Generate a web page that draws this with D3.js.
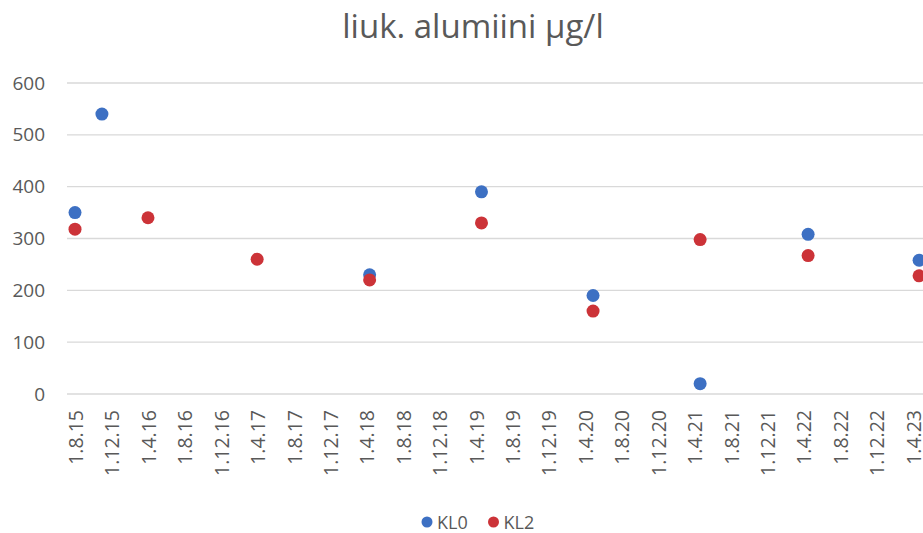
<!DOCTYPE html>
<html>
<head>
<meta charset="utf-8">
<script src="https://cdn.jsdelivr.net/npm/d3@7"></script>
<style>
  html, body { margin: 0; padding: 0; background: #fff; overflow: hidden; }
  svg { display: block; }
</style>
</head>
<body>
<svg id="chart" width="923" height="533"></svg>
<script>
// ---- data ----
const title = "liuk. alumiini µg/l";
const xTickLabels = ["1.8.15","1.12.15","1.4.16","1.8.16","1.12.16","1.4.17","1.8.17","1.12.17",
  "1.4.18","1.8.18","1.12.18","1.4.19","1.8.19","1.12.19","1.4.20","1.8.20","1.12.20",
  "1.4.21","1.8.21","1.12.21","1.4.22","1.8.22","1.12.22","1.4.23"];
const yTicks = [0, 100, 200, 300, 400, 500, 600];
const seriesNames = ["KL0", "KL2"];
const kl0Dates  = ["2015-08-01","2015-10-30","2018-04-12","2019-04-21","2020-04-28","2021-04-21","2022-04-17","2023-04-23"];
const kl0Values = [350, 540, 230, 390, 190, 20, 308, 258];
const kl2Dates  = ["2015-08-01","2016-04-01","2017-04-01","2018-04-12","2019-04-21","2020-04-28","2021-04-21","2022-04-17","2023-04-23"];
const kl2Values = [318, 340, 260, 220, 330, 160, 298, 267, 228];
const colors = ["#3d70c3", "#cc3338"];

// ---- layout ----
const svg = d3.select("#chart");
const parseTick = d3.timeParse("%d.%m.%y");
const parseIso = d3.timeParse("%Y-%m-%d");
const tickDates = xTickLabels.map(parseTick);

const plotLeft = 67, plotRight = 940;
const x = d3.scaleTime()
  .domain([tickDates[0], tickDates[tickDates.length - 1]])
  .range([75, 912.5]);
const y = d3.scaleLinear().domain([0, 600]).range([394, 83]);

const font = "'Open Sans', 'Noto Sans', sans-serif";
const textColor = "#595959";

// title
svg.append("text")
  .attr("x", 473).attr("y", 38)
  .attr("text-anchor", "middle")
  .attr("font-family", font)
  .attr("font-size", 33)
  .attr("fill", textColor)
  .text(title);

// gridlines
svg.append("g").selectAll("line")
  .data(yTicks)
  .join("line")
  .attr("x1", plotLeft).attr("x2", plotRight)
  .attr("y1", d => y(d)).attr("y2", d => y(d))
  .attr("stroke", "#d9d9d9")
  .attr("stroke-width", 1.3);

// y axis
const yAxis = svg.append("g")
  .attr("transform", `translate(${plotLeft},0)`)
  .call(d3.axisLeft(y).tickValues(yTicks).tickSize(0).tickPadding(22));
yAxis.select(".domain").remove();
yAxis.selectAll("text")
  .attr("font-family", font)
  .attr("font-size", 19)
  .attr("fill", textColor);

// x axis
const xAxis = svg.append("g")
  .attr("transform", `translate(0,${y(0)})`)
  .call(d3.axisBottom(x).tickValues(tickDates).tickFormat((d, i) => xTickLabels[i]).tickSize(0));
xAxis.select(".domain").remove();
xAxis.selectAll("text")
  .attr("font-family", font)
  .attr("font-size", 19.5)
  .attr("fill", textColor)
  .attr("text-anchor", "end")
  .attr("dy", null)
  .attr("transform", "rotate(-90)")
  .attr("x", -16)
  .attr("y", 0)
  .attr("dominant-baseline", "central");

// points
const series = [
  { name: seriesNames[0], dates: kl0Dates, values: kl0Values, color: colors[0] },
  { name: seriesNames[1], dates: kl2Dates, values: kl2Values, color: colors[1] }
];
series.forEach(s => {
  svg.append("g").selectAll("circle")
    .data(s.dates.map((d, i) => ({ date: parseIso(d), value: s.values[i] })))
    .join("circle")
    .attr("cx", d => x(d.date))
    .attr("cy", d => y(d.value))
    .attr("r", 6.5)
    .attr("fill", s.color);
});

// legend
const legend = svg.append("g").attr("transform", "translate(427,522)");
const legendX = [0, 66.5];
series.forEach((s, i) => {
  const g = legend.append("g").attr("transform", `translate(${legendX[i]},0)`);
  g.append("circle").attr("r", 5.5).attr("fill", s.color);
  g.append("text")
    .attr("x", 10).attr("y", 0)
    .attr("dominant-baseline", "central")
    .attr("font-family", font)
    .attr("font-size", 18)
    .attr("fill", textColor)
    .text(s.name);
});
</script>
</body>
</html>
